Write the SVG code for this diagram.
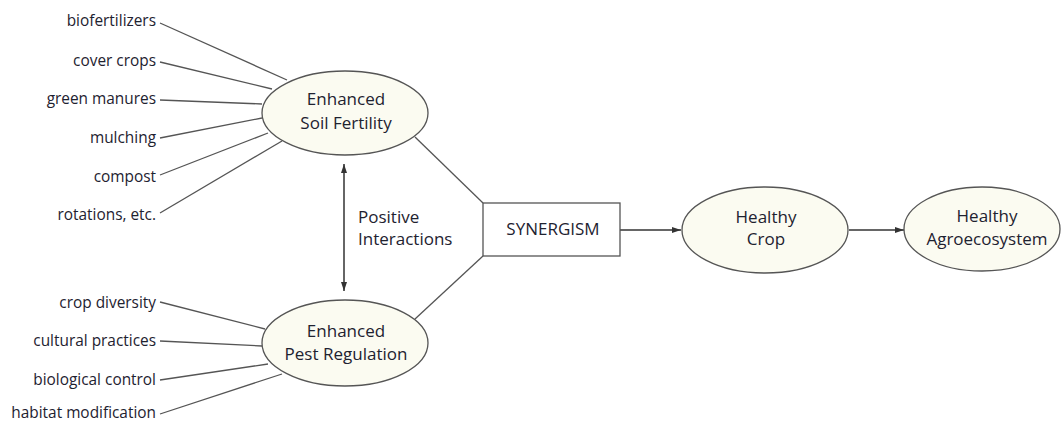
<svg xmlns="http://www.w3.org/2000/svg" width="1062" height="423" viewBox="0 0 1062 423">
  <style>
    .node ellipse { fill: #fbfbf1; stroke: #555; stroke-width: 1.3; }
    .node rect { fill: #fff; stroke: #555; stroke-width: 1.3; }
    .ntext { font-family: "Open Sans", "Liberation Sans", sans-serif; font-size: 17px; fill: #1e2230; text-anchor: middle; }
    .ltext { font-family: "Open Sans", "Liberation Sans", sans-serif; font-size: 17px; fill: #1e2230; text-anchor: start; }
    .lbl { font-family: "Open Sans", "Liberation Sans", sans-serif; font-size: 15.4px; fill: #1e2230; text-anchor: end; }
    .conn line { stroke: #555; stroke-width: 1.3; fill: none; }
    .conn .arrow { stroke: #333; stroke-width: 1.5; }
  </style>
  <defs>
    <marker id="head" viewBox="0 0 9 8" refX="9" refY="4" markerWidth="9" markerHeight="8" markerUnits="userSpaceOnUse" orient="auto-start-reverse">
      <path d="M0,1 L9,4 L0,7 Z" fill="#333"/>
    </marker>
  </defs>

  <rect width="1062" height="423" fill="#fff"/>

  <!-- connectors -->
  <g id="connectors" class="conn">
    <!-- practices feeding soil fertility -->
    <line x1="160" y1="23" x2="287" y2="80"/>
    <line x1="160" y1="62" x2="272" y2="89"/>
    <line x1="160" y1="100" x2="262" y2="104"/>
    <line x1="160" y1="138" x2="262" y2="118"/>
    <line x1="160" y1="175" x2="268" y2="133"/>
    <line x1="160" y1="213" x2="282" y2="141"/>
    <!-- practices feeding pest regulation -->
    <line x1="160" y1="302" x2="265" y2="329"/>
    <line x1="160" y1="341" x2="262" y2="346"/>
    <line x1="160" y1="380" x2="268" y2="364"/>
    <line x1="160" y1="414" x2="282" y2="374"/>
    <!-- into synergism -->
    <line x1="415" y1="137" x2="483" y2="203"/>
    <line x1="415" y1="319" x2="483" y2="256"/>
    <!-- positive interactions -->
    <line class="arrow" x1="344" y1="164" x2="344" y2="291" marker-start="url(#head)" marker-end="url(#head)"/>
    <!-- outcome chain -->
    <line class="arrow" x1="620" y1="230" x2="681" y2="230" marker-end="url(#head)"/>
    <line class="arrow" x1="849" y1="230" x2="904" y2="230" marker-end="url(#head)"/>
  </g>

  <!-- practice labels -->
  <g id="soil-practices">
    <text class="lbl" x="156" y="26">biofertilizers</text>
    <text class="lbl" x="156" y="66">cover crops</text>
    <text class="lbl" x="156" y="104">green manures</text>
    <text class="lbl" x="156" y="143">mulching</text>
    <text class="lbl" x="156" y="182">compost</text>
    <text class="lbl" x="156" y="220">rotations, etc.</text>
  </g>
  <g id="pest-practices">
    <text class="lbl" x="156" y="308">crop diversity</text>
    <text class="lbl" x="156" y="346">cultural practices</text>
    <text class="lbl" x="156" y="385">biological control</text>
    <text class="lbl" x="156" y="418">habitat modification</text>
  </g>

  <g id="soil-fertility" class="node">
    <ellipse cx="345" cy="113" rx="83" ry="42"/>
    <text class="ntext" x="346" y="105">Enhanced</text>
    <text class="ntext" x="346" y="129">Soil Fertility</text>
  </g>

  <g id="pest-regulation" class="node">
    <ellipse cx="345" cy="343" rx="83" ry="43"/>
    <text class="ntext" x="346" y="337">Enhanced</text>
    <text class="ntext" x="346" y="360">Pest Regulation</text>
  </g>

  <g id="positive-interactions">
    <text class="ltext" x="358" y="223">Positive</text>
    <text class="ltext" x="358" y="245">Interactions</text>
  </g>

  <g id="synergism" class="node">
    <rect x="483" y="203" width="137" height="53"/>
    <text class="ntext" x="553" y="235">SYNERGISM</text>
  </g>

  <g id="healthy-crop" class="node">
    <ellipse cx="765" cy="230" rx="83" ry="43"/>
    <text class="ntext" x="766" y="223">Healthy</text>
    <text class="ntext" x="766" y="245">Crop</text>
  </g>

  <g id="healthy-agroecosystem" class="node">
    <ellipse cx="982" cy="229" rx="78" ry="42"/>
    <text class="ntext" x="987" y="222">Healthy</text>
    <text class="ntext" x="987" y="245">Agroecosystem</text>
  </g>
</svg>
